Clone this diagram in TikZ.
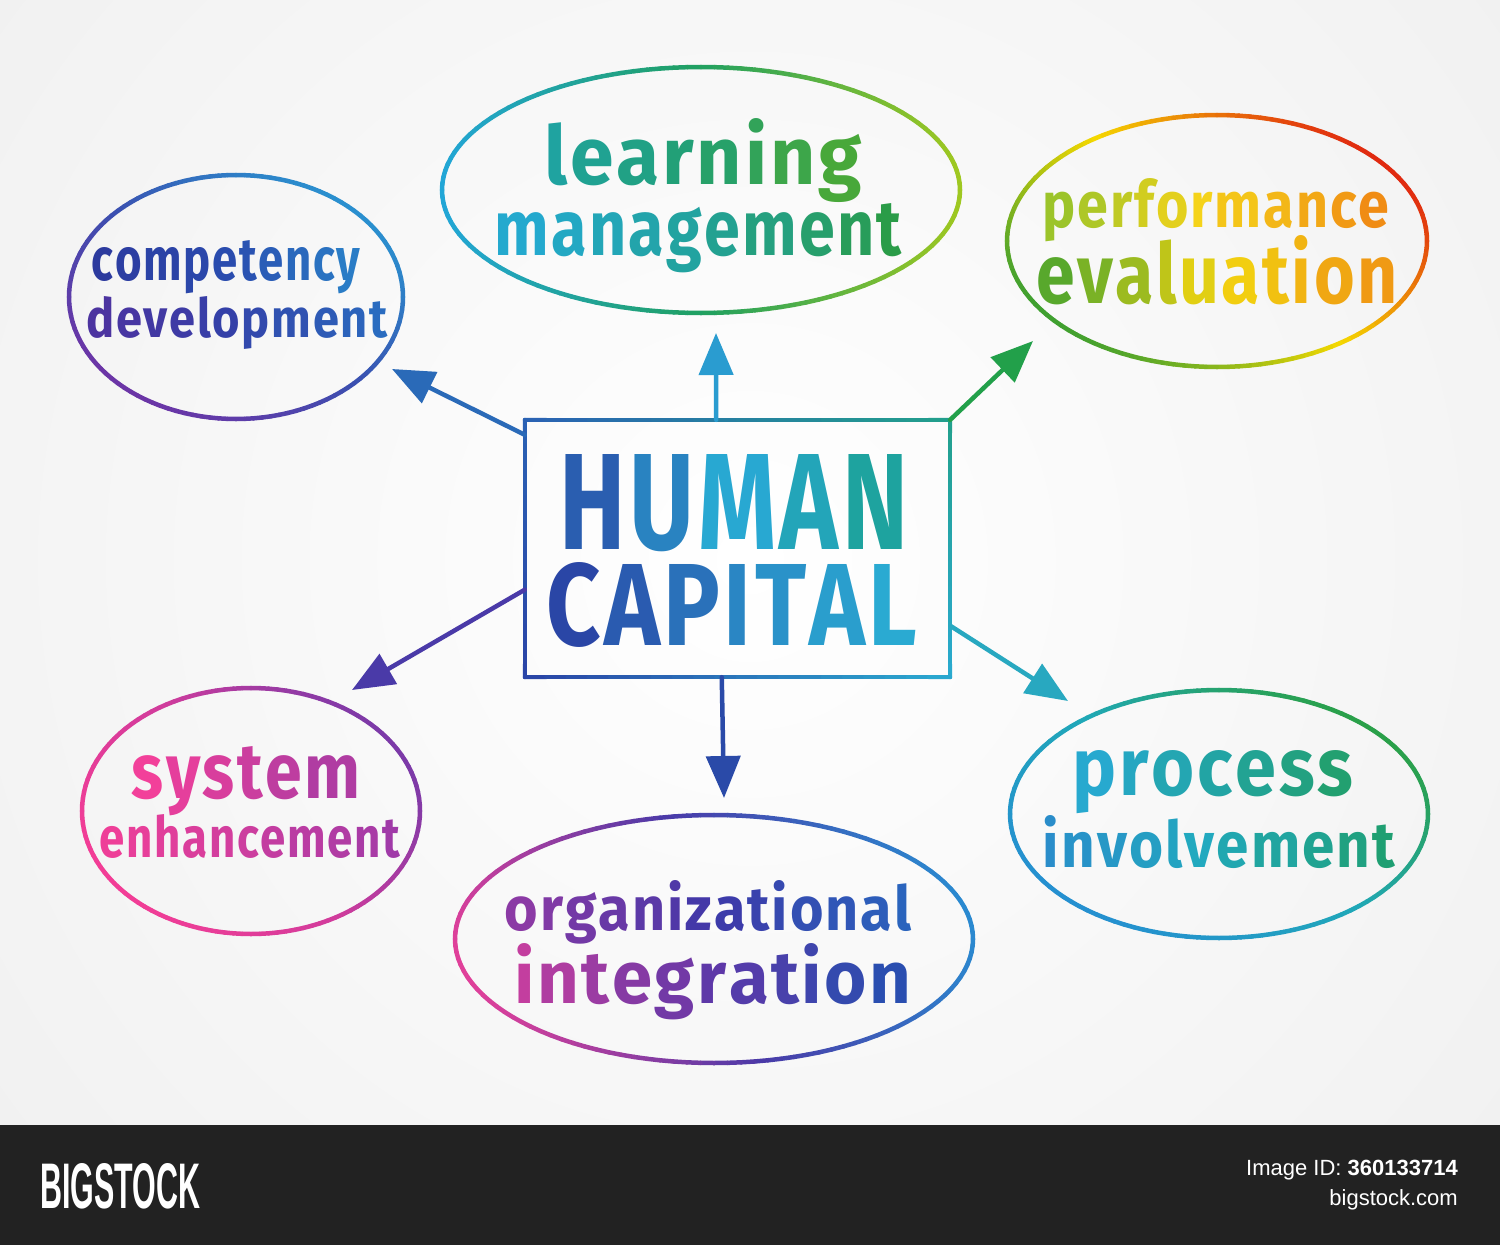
\documentclass[tikz,border=0pt]{standalone}
\usepackage{fontspec}
\setmainfont{Fira Sans}
\newfontfamily\barfont{Liberation Sans}
\usetikzlibrary{shapes.geometric,arrows.meta,calc}
% word colours
\definecolor{wAa}{HTML}{1FA3A0}\definecolor{wAb}{HTML}{22A070}\definecolor{wAc}{HTML}{48A83A}
\definecolor{wBa}{HTML}{24A9CE}\definecolor{wBb}{HTML}{22A29A}\definecolor{wBc}{HTML}{2A9C48}
\definecolor{wCa}{HTML}{2C3A9E}\definecolor{wCb}{HTML}{2A4EB0}\definecolor{wCc}{HTML}{2A7CC6}
\definecolor{wDa}{HTML}{4C34A0}\definecolor{wDb}{HTML}{3440A8}\definecolor{wDc}{HTML}{2A6CC0}
\definecolor{wEa}{HTML}{9CC42A}\definecolor{wEb}{HTML}{F5D31A}\definecolor{wEc}{HTML}{F08C14}
\definecolor{wFa}{HTML}{58A82C}\definecolor{wFb}{HTML}{F2D410}\definecolor{wFc}{HTML}{F09A14}
\definecolor{wGa}{HTML}{F2409A}\definecolor{wGb}{HTML}{D23E9E}\definecolor{wGc}{HTML}{B03CA2}
\definecolor{wHa}{HTML}{EE3F98}\definecolor{wHb}{HTML}{CC3E9F}\definecolor{wHc}{HTML}{A03AA8}
\definecolor{wIa}{HTML}{8B3AA5}\definecolor{wIb}{HTML}{3E38A8}\definecolor{wIc}{HTML}{2A64BD}
\definecolor{wJa}{HTML}{C33E9F}\definecolor{wJb}{HTML}{5E38A8}\definecolor{wJc}{HTML}{2A4EB0}
\definecolor{wKa}{HTML}{27A9CF}\definecolor{wKb}{HTML}{22A4A4}\definecolor{wKc}{HTML}{22A070}
\definecolor{wLa}{HTML}{2A8DCA}\definecolor{wLb}{HTML}{22A9BF}\definecolor{wLc}{HTML}{1F9F72}
\definecolor{wMa}{HTML}{2A5EB0}\definecolor{wMb}{HTML}{28A8D2}\definecolor{wMc}{HTML}{1EA39F}
\definecolor{wNa}{HTML}{2A46A6}\definecolor{wNb}{HTML}{2A86C4}\definecolor{wNc}{HTML}{2AAAD2}
% ellipse colours
\definecolor{eAa}{HTML}{22A6D6}\definecolor{eAb}{HTML}{20A060}\definecolor{eAc}{HTML}{A0C820}
\definecolor{eBa}{HTML}{6B35A6}\definecolor{eBb}{HTML}{3A50B0}\definecolor{eBc}{HTML}{2A90CF}
\definecolor{eCa}{HTML}{40A030}\definecolor{eCb}{HTML}{F5D800}\definecolor{eCc}{HTML}{E02810}
\definecolor{eDa}{HTML}{F23D96}\definecolor{eDb}{HTML}{D03C9C}\definecolor{eDc}{HTML}{7B3AA8}
\definecolor{eEa}{HTML}{E0409A}\definecolor{eEb}{HTML}{4A3AA8}\definecolor{eEc}{HTML}{2A8AD0}
\definecolor{eFa}{HTML}{2590D0}\definecolor{eFb}{HTML}{20A8B8}\definecolor{eFc}{HTML}{2AA048}
% rectangle and arrows
\definecolor{rNW}{HTML}{2A62B4}\definecolor{rNE}{HTML}{22A08C}
\definecolor{rSE}{HTML}{2AAAD0}\definecolor{rSW}{HTML}{2A44A6}
\definecolor{aUp}{HTML}{2A9CD0}\definecolor{aTL}{HTML}{2A6AB8}\definecolor{aTR}{HTML}{22A04A}
\definecolor{aBL}{HTML}{4A3AA8}\definecolor{aBo}{HTML}{2A4AA8}\definecolor{aBR}{HTML}{28A8C0}
\definecolor{bgedge}{HTML}{F1F1F1}\definecolor{barbg}{HTML}{222222}

\ExplSyntaxOn
\int_new:N \l_hc_n_int
\int_new:N \l_hc_i_int
\int_new:N \l_hc_p_int
\tl_new:N \l_hc_col_tl
\NewDocumentCommand\gw{mmmm}{
  \int_set:Nn \l_hc_n_int { \int_max:nn {2} { \tl_count:n {#4} } }
  \int_zero:N \l_hc_i_int
  \tl_map_inline:nn {#4}
   {
     \int_compare:nNnT { \l_hc_i_int } > { 0 } { \kern 0.035em }
     \int_set:Nn \l_hc_p_int { \int_div_round:nn { 200 * \l_hc_i_int } { \l_hc_n_int - 1 } }
     \int_compare:nNnTF { \l_hc_p_int } < { 100 }
       { \tl_set:Nx \l_hc_col_tl { #2!\int_use:N \l_hc_p_int!#1 } }
       { \tl_set:Nx \l_hc_col_tl { #3!\int_eval:n {\l_hc_p_int-100}!#2 } }
     \textcolor{\l_hc_col_tl}{##1}
     \int_incr:N \l_hc_i_int
   }
}
\ExplSyntaxOff

% gradient ellipse around a named node: name, rx, ry, direction, colA, colB, colC
\newcommand\gellipse[7]{%
  \foreach \a in {0,3,...,357}{%
    \pgfmathsetmacro\tt{(cos(\a+1.5-(#4))+1)/2}%
    \pgfmathtruncatemacro\pp{\tt<0.5 ? 200*\tt : 200*\tt-100}%
    \ifdim\tt pt<0.5pt \colorlet{cc}{#6!\pp!#5}\else\colorlet{cc}{#7!\pp!#6}\fi
    \draw[cc, line width=4.5pt, line cap=round]
      ($(#1)+({#2*cos(\a)},{#3*sin(\a)})$) -- ($(#1)+({#2*cos(\a+3)},{#3*sin(\a+3)})$);
  }%
}
% gradient straight line between two points
\newcommand\gline[4]{%
  \foreach \i in {0,...,19}{%
    \pgfmathtruncatemacro\pp{100*(\i+0.5)/20}%
    \colorlet{cc}{#4!\pp!#3}%
    \draw[cc, line width=4pt, line cap=round] ($(#1)!{\i/20}!(#2)$) -- ($(#1)!{(\i+1)/20}!(#2)$);
  }%
}

\begin{document}
\begin{tikzpicture}[x=1pt,y=-1pt,
  word/.style={anchor=base, inner sep=0pt, font=\bfseries\fontsize{40}{48}\selectfont},
  bub/.style={ellipse, inner sep=0pt, draw=none},
  conn/.style={line width=4.5pt, line cap=round, -{Triangle[length=42pt,width=34pt]}},
  bartext/.style={inner sep=0pt, text=white}]
\useasboundingbox (0,0) rectangle (1500,1245);
% background
\begin{scope}
  \clip (0,0) rectangle (1500,1125);
  \fill[bgedge] (0,0) rectangle (1500,1125);
  \shade[inner color=white, outer color=bgedge] (750,560) circle (950);
\end{scope}

% central box
\node[inner sep=0pt, minimum width=425pt, minimum height=257pt] (hc) at (737.5,548.5) {};
\gline{hc.north west}{hc.north east}{rNW}{rNE}
\gline{hc.north east}{hc.south east}{rNE}{rSE}
\gline{hc.south west}{hc.south east}{rSW}{rSE}
\gline{hc.north west}{hc.south west}{rNW}{rSW}
\node[word] (hcA) at (734,549) {\raisebox{0pt}[\height][0pt]{\resizebox{348pt}{95pt}{\gw{wMa}{wMb}{wMc}{HUMAN}}}};
\node[word] (hcB) at (732,645) {\raisebox{0pt}[\height][0pt]{\resizebox{371pt}{83pt}{\gw{wNa}{wNb}{wNc}{CAPITAL}}}};

% bubbles
\node[bub, minimum width=518pt, minimum height=246pt] (learn) at (701,190) {};
\node[bub, minimum width=334pt, minimum height=244pt] (comp) at (236,297) {};
\node[bub, minimum width=420pt, minimum height=252pt] (perf) at (1217,241) {};
\node[bub, minimum width=338pt, minimum height=246pt] (sys) at (251,811) {};
\node[bub, minimum width=518pt, minimum height=248pt] (org) at (714,939) {};
\node[bub, minimum width=418pt, minimum height=248pt] (proc) at (1219,814) {};
\gellipse{learn}{259}{123}{0}{eAa}{eAb}{eAc}
\gellipse{comp}{167}{122}{-45}{eBa}{eBb}{eBc}
\gellipse{perf}{210}{126}{-35}{eCa}{eCb}{eCc}
\gellipse{sys}{169}{123}{-30}{eDa}{eDb}{eDc}
\gellipse{org}{259}{124}{-10}{eEa}{eEb}{eEc}
\gellipse{proc}{209}{124}{-40}{eFa}{eFb}{eFc}

% bubble texts
\node[word] (learnA) at (703,184) {\resizebox{317pt}{66pt}{\gw{wAa}{wAb}{wAc}{learning}}};
\node[word] (learnB) at (698,255) {\resizebox{407pt}{52pt}{\gw{wBa}{wBb}{wBc}{management}}};
\node[word] (compA) at (226,280) {\resizebox{268pt}{40pt}{\gw{wCa}{wCb}{wCc}{competency}}};
\node[word] (compB) at (237,337) {\resizebox{301pt}{41pt}{\gw{wDa}{wDb}{wDc}{development}}};
\node[word] (perfA) at (1216,227) {\resizebox{347pt}{49pt}{\gw{wEa}{wEb}{wEc}{performance}}};
\node[word] (perfB) at (1217,303) {\resizebox{361pt}{68pt}{\gw{wFa}{wFb}{wFc}{evaluation}}};
\node[word] (sysA) at (246,798) {\resizebox{228pt}{52pt}{\gw{wGa}{wGb}{wGc}{system}}};
\node[word] (sysB) at (250,857) {\resizebox{300pt}{43pt}{\gw{wHa}{wHb}{wHc}{enhancement}}};
\node[word] (orgA) at (708,930) {\resizebox{407pt}{50pt}{\gw{wIa}{wIb}{wIc}{organizational}}};
\node[word] (orgB) at (713,1003) {\resizebox{397pt}{60pt}{\gw{wJa}{wJb}{wJc}{integration}}};
\node[word] (procA) at (1213,795) {\resizebox{280pt}{45pt}{\gw{wKa}{wKb}{wKc}{process}}};
\node[word] (procB) at (1219,867) {\resizebox{352pt}{52pt}{\gw{wLa}{wLb}{wLc}{involvement}}};

% arrow tips (free ends)
\coordinate (tUp) at (716,333);
\coordinate (tTL) at (392,369);
\coordinate (tTR) at (1033,341);
\coordinate (tBL) at (352,690);
\coordinate (tBo) at (724,798);
\coordinate (tBR) at (1068,701);
\draw[conn, aUp] ($(hc.north west)!0.45!(hc.north east)$) -- (tUp);
\draw[conn, aTL] ($(hc.north west)+(0,15)$) -- (tTL);
\draw[conn, aTR] (hc.north east) -- (tTR);
\draw[conn, aBL] ($(hc.north west)!0.66!(hc.south west)$) -- (tBL);
\draw[conn, aBo] ($(hc.south west)!0.463!(hc.south east)$) -- (tBo);
\draw[conn, aBR] ($(hc.north east)!0.8!(hc.south east)$) -- (tBR);

% bottom bar
\fill[barbg] (0,1125) rectangle (1500,1245);
\node[bartext, anchor=base west] (brand) at (40,1208) {\resizebox{160pt}{45pt}{\barfont\bfseries BIGSTOCK}};
\node[bartext, anchor=base east] (imgid) at (1458,1175) {\barfont\fontsize{22}{26}\selectfont Image ID: \textbf{360133714}};
\node[bartext, anchor=base east] (site) at (1458,1205) {\barfont\fontsize{22}{26}\selectfont bigstock.com};
\end{tikzpicture}
\end{document}
